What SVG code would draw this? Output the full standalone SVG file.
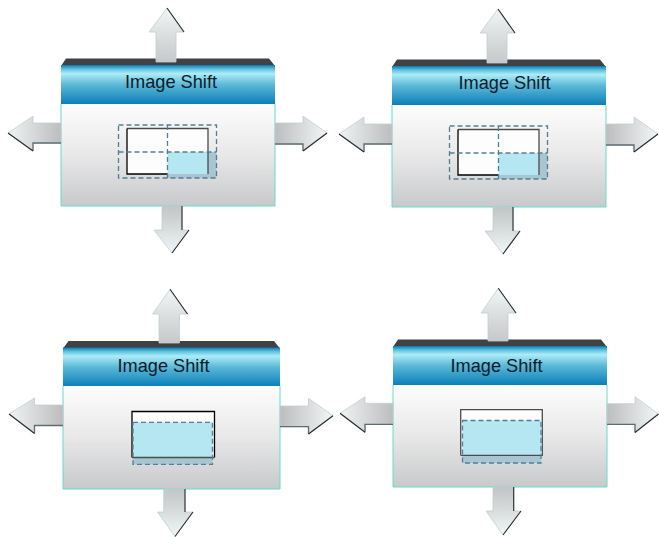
<svg xmlns="http://www.w3.org/2000/svg" width="659" height="537" viewBox="0 0 659 537">
<style>
.top{fill:#3f4144}
.hdr{fill:url(#hdrG)}
.bg{fill:url(#bodyG)}
.body{fill:none;stroke:#62dcc8;stroke-width:1}
.lbl{font-family:"Liberation Sans",Arial,sans-serif;font-size:18.2px;fill:#0b1c2c;text-anchor:middle}
.blue{fill:#b5e7f3}
.dim{fill:#a7c6d1}
.sol{fill:none;stroke:#4a4c4e;stroke-width:1.3}
.blk{fill:none;stroke:#000;stroke-width:1.3}
.dash{fill:none;stroke:#527f92;stroke-width:1.3;stroke-dasharray:5 3}
.up{fill:url(#upG);stroke:#c3ced1;stroke-width:.8}
.dn{fill:url(#dnG);stroke:#c3ced1;stroke-width:.8}
.lf{fill:url(#lfG);stroke:#c3ced1;stroke-width:.8}
.rt{fill:url(#rtG);stroke:#c3ced1;stroke-width:.8}
.edge{fill:none;stroke:#23292c;stroke-width:1.1}
.edge2{fill:none;stroke:#5f6d72;stroke-width:1.3}
</style>
<defs>
<linearGradient id="hdrG" x1="0" y1="0" x2="0" y2="1">
<stop offset="0" stop-color="#0c78b0"/><stop offset=".1" stop-color="#5cc0de"/><stop offset=".22" stop-color="#aeecf7"/><stop offset=".5" stop-color="#5cb9d8"/><stop offset="1" stop-color="#0b7fb8"/>
</linearGradient>
<linearGradient id="bodyG" x1="0" y1="0" x2="0" y2="1">
<stop offset="0" stop-color="#fdfdfd"/><stop offset=".5" stop-color="#e8e8e9"/><stop offset="1" stop-color="#c8c9ca"/>
</linearGradient>
<linearGradient id="upG" x1="0" y1="0" x2="0" y2="1">
<stop offset="0" stop-color="#f1f5f5"/><stop offset="1" stop-color="#c6c8c9"/>
</linearGradient>
<linearGradient id="dnG" x1="0" y1="0" x2="0" y2="1">
<stop offset="0" stop-color="#c2c4c5"/><stop offset="1" stop-color="#f0f6f7"/>
</linearGradient>
<linearGradient id="lfG" x1="0" y1="0" x2="1" y2="0">
<stop offset="0" stop-color="#f0f3f3"/><stop offset="1" stop-color="#bcbdbe"/>
</linearGradient>
<linearGradient id="rtG" x1="0" y1="0" x2="1" y2="0">
<stop offset="0" stop-color="#bcbdbe"/><stop offset="1" stop-color="#f3f6f6"/>
</linearGradient>
</defs>
<rect width="659" height="537" fill="#fff"/>

<g id="panel-1">
<polygon class="top" points="61,66 66,58.5 269,58.5 275,66"/>
<rect class="hdr" x="61" y="65" width="214" height="39"/>
<rect class="bg" x="61" y="104" width="214" height="102"/>
<path class="body" d="M61,104V206H275V104"/>
<text class="lbl" x="171" y="88">Image Shift</text>
<rect x="127" y="128.5" width="81" height="45.5" fill="#fdfdfd"/>
<rect class="blue" x="167.5" y="152" width="40.5" height="22"/>
<path class="dim" d="M208,152h8.5v26h-49v-4H208z"/>
<path class="sol" d="M127,128.5H208V174"/>
<path class="blk" d="M127,128.5V174H167.5"/>
<rect class="dash" x="118.5" y="125" width="98" height="53"/>
<path class="dash" d="M118.5,152H216.5M167.5,125V178"/>
</g>

<g id="panel-2">
<polygon class="top" points="392,67 397,59.5 600,59.5 606,67"/>
<rect class="hdr" x="392" y="66" width="214" height="39"/>
<rect class="bg" x="392" y="105" width="214" height="102"/>
<path class="body" d="M392,105V207H606V105"/>
<text class="lbl" x="504.5" y="89">Image Shift</text>
<rect x="458" y="129.5" width="81" height="45.5" fill="#fdfdfd"/>
<rect class="blue" x="498.5" y="153" width="40.5" height="22"/>
<path class="dim" d="M539,153h8.5v26h-49v-4H539z"/>
<path class="sol" d="M458,129.5H539V175"/>
<path class="blk" d="M458,129.5V175H498.5"/>
<rect class="dash" x="449.5" y="126" width="98" height="53"/>
<path class="dash" d="M449.5,153H547.5M498.5,126V179"/>
</g>

<g id="panel-3">
<polygon class="top" points="63,348.5 68.5,341 274,341 280,348.5"/>
<rect class="hdr" x="63" y="347.5" width="217" height="39"/>
<rect class="bg" x="63" y="386" width="217" height="103"/>
<path class="body" d="M63,386V489H280V386"/>
<text class="lbl" x="163.5" y="372">Image Shift</text>
<rect x="132" y="411.5" width="82.500" height="46" fill="#fdfdfd"/>
<rect class="blue" x="133" y="422.3" width="79.5" height="35.2"/>
<rect class="dim" x="133" y="457.5" width="79.5" height="6.8"/>
<path class="blk" d="M132,457.5V411.5H214.5V457.5"/>
<path class="sol" d="M132,457.5H214.5"/>
<rect class="dash" x="133" y="422.3" width="79.5" height="42"/>
</g>

<g id="panel-4">
<polygon class="top" points="393,347 398,339.5 601,339.5 607,347"/>
<rect class="hdr" x="393" y="346" width="214" height="39"/>
<rect class="bg" x="393" y="385" width="214" height="102"/>
<path class="body" d="M393,385V487H607V385"/>
<text class="lbl" x="496.5" y="372">Image Shift</text>
<rect x="460.7" y="409.7" width="81.6" height="45.6" fill="#fdfdfd"/>
<rect class="blue" x="462.5" y="420.5" width="78.5" height="34.8"/>
<rect class="dim" x="462.5" y="455.3" width="78.5" height="7.7"/>
<path class="sol" d="M460.7,455.3V409.7H542.3V455.3H460.7"/>
<rect class="dash" x="462.5" y="420.5" width="78.5" height="42.5"/>
</g>

<g id="connectors">
<g id="arrows-1">
<polygon class="up" points="167,8 184,32 176,32 176,62 156,62 156,32 149,32"/>
<polyline class="edge" points="167,8 184,32"/>
<polygon class="lf" points="8,133 33,116 33,123 61,123 61,143 33,143 33,151"/>
<polyline class="edge2" points="61,143 33,143 33,151"/><polyline class="edge" points="8,133 33,151"/>
<polygon class="rt" points="275,123 303,123 303,116 327,133 303,151 303,144 275,144"/>
<polyline class="edge2" points="275,144 303,144 303,151"/><polyline class="edge" points="327,133 303,151"/>
<polygon class="dn" points="162,206 182,206 182,230 189,230 172,253 154,230 162,230"/>
<polyline class="edge" points="182,206 182,230"/><polyline class="edge" points="189,230 172,253"/>
</g>
<g id="arrows-2">
<polygon class="up" points="498,9 515,33 507,33 507,63 487,63 487,33 480,33"/>
<polyline class="edge" points="498,9 515,33"/>
<polygon class="lf" points="339,134 364,117 364,124 392,124 392,144 364,144 364,152"/>
<polyline class="edge2" points="392,144 364,144 364,152"/><polyline class="edge" points="339,134 364,152"/>
<polygon class="rt" points="606,124 634,124 634,117 658,134 634,152 634,145 606,145"/>
<polyline class="edge2" points="606,145 634,145 634,152"/><polyline class="edge" points="658,134 634,152"/>
<polygon class="dn" points="493,207 513,207 513,231 520,231 503,254 485,231 493,231"/>
<polyline class="edge" points="513,207 513,231"/><polyline class="edge" points="520,231 503,254"/>
</g>
<g id="arrows-3">
<polygon class="up" points="170,289.3 187.5,314 179.5,314 179.5,343 159,343 159,314 152.5,314"/>
<polyline class="edge" points="170,289.3 187.5,314"/>
<polygon class="lf" points="9,414 34.5,398 34.5,405 63,405 63,425.5 34.5,425.5 34.5,433.5"/>
<polyline class="edge2" points="63,425.5 34.5,425.5 34.5,433.5"/><polyline class="edge" points="9,414 34.5,433.5"/>
<polygon class="rt" points="280,406 308.5,406 308.5,398.3 333,415.7 308.5,434 308.5,426.7 280,426.7"/>
<polyline class="edge2" points="280,426.7 308.5,426.7 308.5,434"/><polyline class="edge" points="333,415.7 308.5,434"/>
<polygon class="dn" points="163.7,489 185,489 185,512 193,512 175,536.5 157.5,512 163.7,512"/>
<polyline class="edge" points="185,489 185,512"/><polyline class="edge" points="193,512 175,536.5"/>
</g>
<g id="arrows-4">
<polygon class="up" points="498.3,288.3 516,313 508,313 508,341 488,341 488,313 481,313"/>
<polyline class="edge" points="498.3,288.3 516,313"/>
<polygon class="lf" points="340,413.3 365,396.7 365,403.3 393,403.3 393,424.3 365,424.3 365,432.3"/>
<polyline class="edge2" points="393,424.3 365,424.3 365,432.3"/><polyline class="edge" points="340,413.3 365,432.3"/>
<polygon class="rt" points="607,403.7 635,403.7 635,396.7 658.5,414 635,432.5 635,424.3 607,424.3"/>
<polyline class="edge2" points="607,424.3 635,424.3 635,432.5"/><polyline class="edge" points="658.5,414 635,432.5"/>
<polygon class="dn" points="493,487 513.7,487 513.7,511 521,511 503,535 486,511 493,511"/>
<polyline class="edge" points="513.7,487 513.7,511"/><polyline class="edge" points="521,511 503,535"/>
</g>
</g>
</svg>
